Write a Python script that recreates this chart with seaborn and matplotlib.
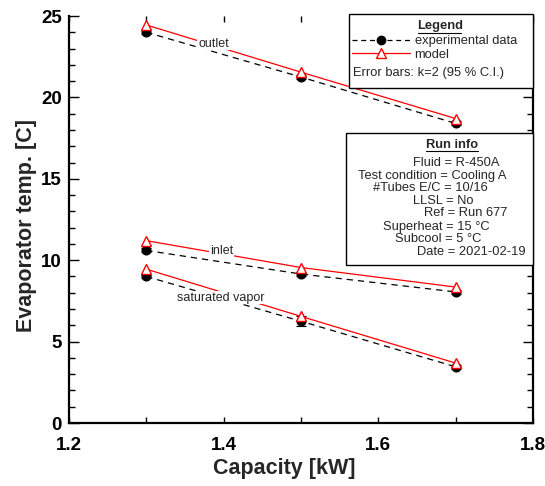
import numpy as np
import pandas as pd
import matplotlib
matplotlib.use("Agg")
import matplotlib.pyplot as plt
from matplotlib.lines import Line2D
from matplotlib.patches import Rectangle
from matplotlib.ticker import MultipleLocator
import seaborn as sns

# Dados
capacity = [1.3, 1.5, 1.7]
outlet_exp = [24.0, 21.25, 18.4]
outlet_model = [24.45, 21.55, 18.7]
inlet_exp = [10.6, 9.15, 8.05]
inlet_model = [11.2, 9.55, 8.35]
satvap_exp = [9.0, 6.25, 3.45]
satvap_model = [9.45, 6.55, 3.68]
err_outlet = [0.12, 0.12, 0.12]
err_inlet = [0.12, 0.12, 0.12]
err_satvap = [0.12, 0.3, 0.12]

run_info = ["Fluid = R-450A", "Test condition = Cooling A", "#Tubes E/C = 10/16",
            "LLSL = No", "Ref = Run 677", "Superheat = 15 \u00b0C",
            "Subcool = 5 \u00b0C", "Date = 2021-02-19"]
run_info_left = [413, 358, 373, 413, 424, 383, 395, 417]  # px
run_info_y = [163, 176, 188, 201, 213, 227, 239, 252]      # px

sns.set_theme(style="ticks")
plt.rcParams['font.family'] = ['Liberation Sans', 'DejaVu Sans']

fig = plt.figure(figsize=(5.45, 4.86), dpi=100)
ax = fig.add_axes([69 / 545, 1 - 423 / 486, 464 / 545, 407 / 486])

# conversao pixel -> fração do eixo
def fx(px):
    return (px - 69) / 464

def fy(py):
    return (423 - py) / 407

series = [
    (outlet_exp, outlet_model, err_outlet),
    (inlet_exp, inlet_model, err_inlet),
    (satvap_exp, satvap_model, err_satvap),
]
for exp, mod, err in series:
    df = pd.DataFrame({'cap': capacity, 'exp': exp, 'mod': mod})
    ax.errorbar(capacity, exp, yerr=err, fmt='none', ecolor='black',
                elinewidth=0.8, capsize=3.5, capthick=0.8, zorder=2)
    sns.lineplot(data=df, x='cap', y='exp', ax=ax, color='black', linewidth=0.9,
                 linestyle=(0, (5, 4)), marker='o', markersize=6.5,
                 markerfacecolor='black', markeredgecolor='black', zorder=3)
    sns.lineplot(data=df, x='cap', y='mod', ax=ax, color='red', linewidth=0.9,
                 marker='^', markersize=7, markerfacecolor='white',
                 markeredgecolor='red', markeredgewidth=1.0, zorder=4)

# Rótulos das curvas
lbl_kw = dict(fontsize=9, ha='center', va='center', zorder=5,
              bbox=dict(facecolor='white', edgecolor='none', pad=0.5))
ax.text(1.387, 23.3, 'outlet', **lbl_kw)
ax.text(1.397, 10.55, 'inlet', **lbl_kw)
ax.text(1.396, 7.7, 'saturated vapor', **lbl_kw)

ax.set_xlim(1.2, 1.8)
ax.set_ylim(0, 25)
ax.xaxis.set_major_locator(MultipleLocator(0.2))
ax.xaxis.set_minor_locator(MultipleLocator(0.1))
ax.yaxis.set_major_locator(MultipleLocator(5))
ax.yaxis.set_minor_locator(MultipleLocator(1))
ax.tick_params(which='both', direction='in', top=True, right=True,
               width=1.0, colors='black')
ax.tick_params(axis='y', which='major', length=7)
ax.tick_params(axis='y', which='minor', length=4)
ax.tick_params(axis='x', which='both', length=4)
ax.tick_params(axis='both', which='major', labelsize=13.5)
ax.tick_params(axis='x', which='major', pad=10)
ax.tick_params(axis='y', which='major', pad=5)
for s in ['left', 'right', 'bottom']:
    ax.spines[s].set_linewidth(1.6)
    ax.spines[s].set_color('black')
ax.spines['top'].set_visible(False)

ax.set_xlabel('Capacity [kW]', fontsize=15.5, fontweight='bold')
ax.set_ylabel('Evaporator temp. [C]', fontsize=15.5, fontweight='bold')
ax.xaxis.set_label_coords(fx(284), fy(468))
ax.yaxis.set_label_coords(fx(27), fy(225))
ax.xaxis.label.set_va('center')
ax.yaxis.label.set_va('center')

# Caixa da legenda
fs = 9.3
ax.add_patch(Rectangle((fx(349), fy(88)), fx(533) - fx(349), fy(14) - fy(88),
                       transform=ax.transAxes, facecolor='white', edgecolor='black',
                       linewidth=1.0, clip_on=False, zorder=6))
ax.text(fx(440), fy(26), 'Legend', transform=ax.transAxes, fontsize=fs,
        fontweight='bold', ha='center', va='center', zorder=7)
ax.plot([fx(418), fx(461)], [fy(33), fy(33)], transform=ax.transAxes,
        color='black', linewidth=0.8, clip_on=False, zorder=7)
handles = [
    Line2D([], [], color='black', linestyle=(0, (4, 3)), linewidth=0.9,
           marker='o', markersize=6, markerfacecolor='black'),
    Line2D([], [], color='red', linewidth=0.9, marker='^', markersize=7,
           markerfacecolor='white', markeredgecolor='red'),
]
leg = ax.legend(handles, ['experimental data', 'model'], loc='upper left',
                bbox_to_anchor=(fx(352), fy(35)), frameon=False, fontsize=fs,
                handlelength=4.5, handletextpad=0.35, labelspacing=0.15,
                borderpad=0, borderaxespad=0)
leg.set_zorder(8)
ax.text(fx(353), fy(73), 'Error bars: k=2 (95 % C.I.)', transform=ax.transAxes,
        fontsize=fs, ha='left', va='center', zorder=8)

# Caixa de informações do ensaio
ax.add_patch(Rectangle((fx(346), fy(265)), fx(533) - fx(346), fy(133) - fy(265),
                       transform=ax.transAxes, facecolor='white', edgecolor='black',
                       linewidth=1.0, clip_on=False, zorder=6))
ax.text(fx(452), fy(145), 'Run info', transform=ax.transAxes, fontsize=fs,
        fontweight='bold', ha='center', va='center', zorder=7)
ax.plot([fx(426), fx(478)], [fy(151), fy(151)], transform=ax.transAxes,
        color='black', linewidth=0.8, clip_on=False, zorder=7)
for txt, xl, yl in zip(run_info, run_info_left, run_info_y):
    ax.text(fx(xl), fy(yl), txt, transform=ax.transAxes, fontsize=fs,
            ha='left', va='center', zorder=7)

# rótulos dos eixos em negrito
fig.canvas.draw()
for lab in ax.get_xticklabels() + ax.get_yticklabels():
    lab.set_fontweight('bold')

fig.savefig('out.png', dpi=100)
